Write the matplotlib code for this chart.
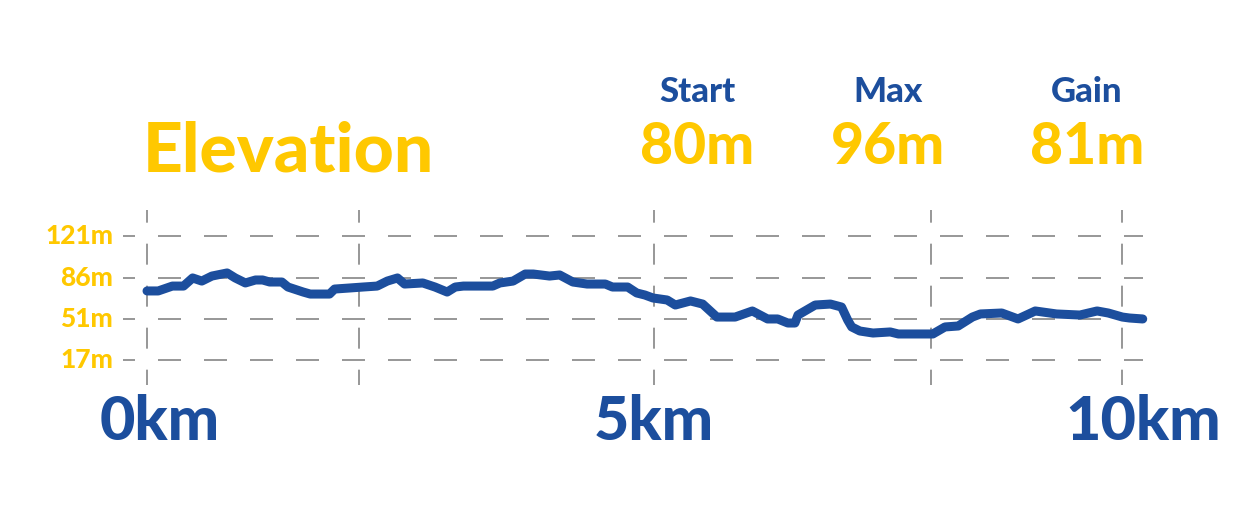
import matplotlib
matplotlib.use('Agg')
import matplotlib.pyplot as plt

BLUE = '#1c4e9d'
YELLOW = '#ffc800'
GRID = '#858585'

# distance (km) / elevation (m)
dist_km = [0.00, 0.11, 0.25, 0.36, 0.45, 0.54, 0.64, 0.79, 0.87, 0.97,
           1.07, 1.14, 1.21, 1.33, 1.39, 1.54, 1.61, 1.80, 1.85, 2.00,
           2.13, 2.27, 2.37, 2.47, 2.54, 2.72, 2.84, 2.96, 3.04, 3.12,
           3.41, 3.48, 3.61, 3.73, 3.81, 3.97, 4.07, 4.20, 4.34, 4.52,
           4.59, 4.74, 4.83, 4.91, 4.99, 5.13, 5.21, 5.36, 5.48, 5.62,
           5.80, 5.97, 6.12, 6.22, 6.32, 6.39, 6.42, 6.59, 6.74, 6.85,
           6.91, 6.95, 7.03, 7.16, 7.33, 7.41, 7.75, 7.87, 8.00, 8.14,
           8.22, 8.43, 8.59, 8.76, 8.97, 9.20, 9.37, 9.48, 9.62, 9.69, 9.82]
elev_m = [74.9, 74.9, 79.0, 79.0, 85.8, 83.2, 87.4, 90.0, 85.8, 81.6,
          84.1, 84.1, 82.4, 82.4, 78.2, 74.0, 72.3, 72.3, 76.5, 77.4,
          78.2, 79.0, 83.2, 85.8, 80.7, 81.6, 78.2, 74.0, 78.2, 79.0,
          79.0, 81.6, 83.2, 89.1, 89.1, 87.4, 88.3, 82.4, 80.7, 80.7,
          78.2, 78.2, 73.2, 71.5, 69.0, 67.3, 63.1, 66.5, 63.9, 53.0,
          53.0, 58.1, 51.4, 51.4, 48.0, 48.0, 54.7, 63.1, 63.9, 61.4,
          50.5, 44.7, 41.3, 39.6, 40.5, 38.8, 38.8, 44.7, 45.5, 53.0,
          55.6, 56.4, 51.4, 58.1, 55.6, 54.7, 58.1, 56.4, 53.0, 52.2, 51.4]

y_ticks = [121, 86, 51, 17]
y_labels = ['121m', '86m', '51m', '17m']
x_grid = [0, 2.09, 5.0, 7.73, 9.62]
x_label_pos = [0.12, 5.0, 9.82]
x_labels = ['0km', '5km', '10km']

stat_names = ['Start', 'Max', 'Gain']
stat_values = ['80m', '96m', '81m']

FONT = ['Lato', 'DejaVu Sans']

fig = plt.figure(figsize=(12.5, 5.21), dpi=100)
ax = fig.add_axes([0, 0, 1, 1])
ax.set_xlim(-1.45, 10.878)
ax.set_ylim(-118.1, 319.0)
ax.axis('off')

# dashed grid (dash lengths get scaled by lw)
for y in y_ticks:
    ax.plot([-0.24, 9.82], [y, y], color=GRID, lw=1.2,
            linestyle=(6.6, (13.8, 13.8)), zorder=1)
for x in x_grid:
    ax.plot([x, x], [142.8, -4.0], color=GRID, lw=1.2,
            linestyle=(5, (12.6, 12.6)), zorder=1)

ax.plot(dist_km, elev_m, color=BLUE, lw=6.5, solid_capstyle='round',
        solid_joinstyle='round', zorder=3)

for y, lab in zip(y_ticks, y_labels):
    ax.text(-0.335, y, lab, ha='right', va='center', color=YELLOW,
            fontsize=19, fontweight='black', family=FONT)

for x, lab in zip(x_label_pos, x_labels):
    ax.text(x, -35, lab, ha='center', va='center', color=BLUE,
            fontsize=44, fontweight='black', family=FONT)

fig.text(143 / 1250, 1 - 152 / 521, 'Elevation', ha='left', va='center',
         color=YELLOW, fontsize=50, fontweight='black', family=FONT)

stat_x = [697, 888, 1087]
for sx, name, val in zip(stat_x, stat_names, stat_values):
    fig.text(sx / 1250, 1 - 92 / 521, name, ha='center', va='center',
             color=BLUE, fontsize=25, fontweight='black', family=FONT)
    fig.text(sx / 1250, 1 - 148 / 521, val, ha='center', va='center',
             color=YELLOW, fontsize=41, fontweight='black', family=FONT)

fig.savefig('out.png', dpi=100, facecolor='white')
